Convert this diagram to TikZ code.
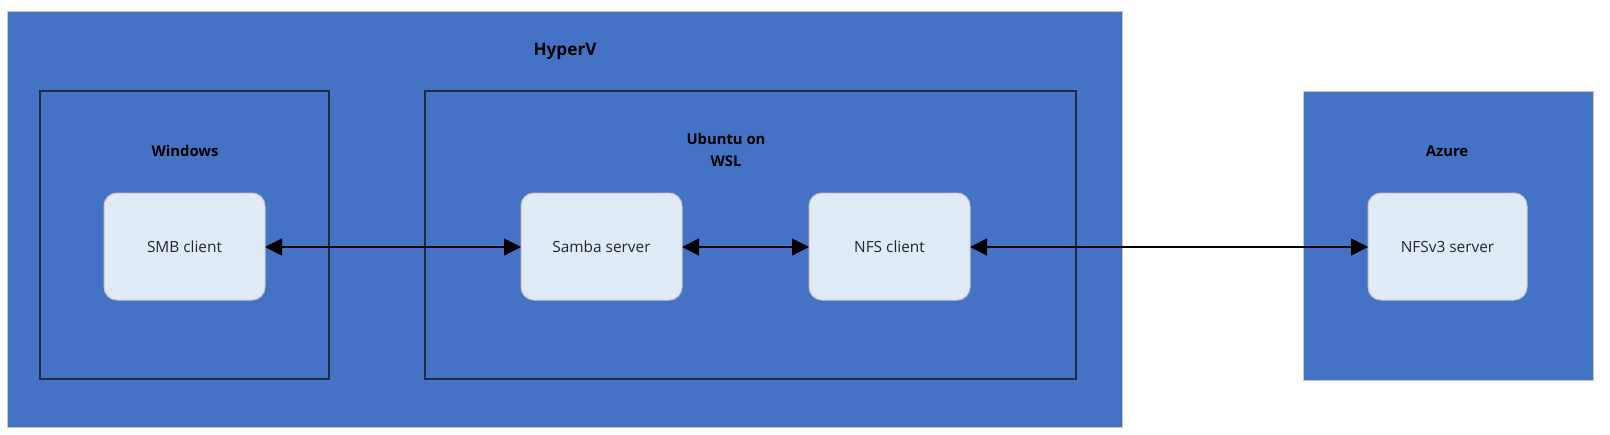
\documentclass[tikz,border=0pt]{standalone}
\usepackage{fontspec}
\setmainfont{Open Sans}
\usetikzlibrary{arrows.meta}
\definecolor{boxblue}{HTML}{4472C4}
\definecolor{lightfill}{HTML}{DEEAF6}
\definecolor{edgegray}{HTML}{C8C8C8}
\definecolor{darkedge}{HTML}{1F2A44}
\begin{document}
\begin{tikzpicture}[x=1pt,y=-1pt,
  region/.style={fill=boxblue,draw=edgegray,line width=1pt},
  frame/.style={draw=darkedge,line width=1.2pt},
  service/.style={fill=lightfill,draw=edgegray,line width=1pt,rounded corners=13pt},
  title/.style={font=\fontsize{14.8}{22.6}\selectfont\bfseries,text=black,align=center},
  caption/.style={font=\fontsize{15.4}{18}\selectfont,text=black!85},
  link/.style={draw=black,line width=1.4pt,{Triangle[length=17pt,width=17pt]}-{Triangle[length=17pt,width=17pt]}}
]
\useasboundingbox (0,0) rectangle (1610,434);
\fill[white] (0,0) rectangle (1610,434);
% HyperV
\draw[region] (7,11) rectangle (1122,427);
\node[title,font=\fontsize{17.2}{20}\selectfont\bfseries] (hyperv) at (565,51) {HyperV};
% Windows
\draw[frame] (40,91) rectangle (329,379);
\node[title] (windows) at (185,151) {Windows};
\draw[service] (104,193) rectangle (265,300);
\node[caption] (smb) at (184.5,247) {SMB client};
\coordinate (smbE) at (265,247);
% Ubuntu
\draw[frame] (425,91) rectangle (1076,379);
\node[title] (ubuntu) at (726,150) {Ubuntu on\\WSL};
\draw[service] (521,193) rectangle (682,300);
\node[caption] (samba) at (601.5,247) {Samba server};
\coordinate (sambaW) at (521,247);
\coordinate (sambaE) at (682,247);
\draw[service] (809,193) rectangle (970,300);
\node[caption] (nfsc) at (889.5,247) {NFS client};
\coordinate (nfscW) at (809,247);
\coordinate (nfscE) at (970,247);
% Azure
\draw[region] (1303,91) rectangle (1593,380);
\node[title] (azure) at (1447,151) {Azure};
\draw[service] (1368,193) rectangle (1527,300);
\node[caption] (nfss) at (1447.5,247) {NFSv3 server};
\coordinate (nfssW) at (1368,247);
% connectors
\draw[link] (smbE) -- (sambaW);
\draw[link] (sambaE) -- (nfscW);
\draw[link] (nfscE) -- (nfssW);
\end{tikzpicture}
\end{document}
